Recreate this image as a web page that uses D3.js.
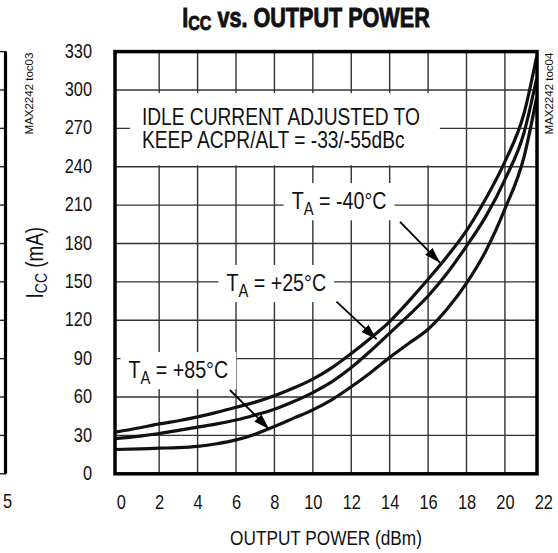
<!DOCTYPE html>
<html><head><meta charset="utf-8">
<script src="https://cdn.jsdelivr.net/npm/d3@7"></script>
<style>
html,body{margin:0;padding:0;background:#fff;}
svg{display:block;}
text{font-family:"Liberation Sans",Arial,sans-serif;fill:#111;}
</style></head>
<body>
<svg id="chart" width="558" height="553"></svg>
<script>
// ---- data ----
const xTicks = [0,2,4,6,8,10,12,14,16,18,20,22];
const yTicks = [0,30,60,90,120,150,180,210,240,270,300,330];
const power  = [-0.3,1,2,3,4,5,6,7,8,9,10,11,12,13,14,15,16,17,18,19,20,21,21.65];
const iccM40 = [32.5,36,39,41.5,44.5,48,52,56,61,67,74,83,94,106,119,135,152,170,190,215,244,282,326];
const iccP25 = [27.5,29.5,31.5,34,36.5,39,42,46,50.5,56.5,63.5,72,83,96,110,124,139,157,178,201,230,267,309];
const iccP85 = [19,19.5,20,20.5,21.5,23.5,26.5,31,37,43.5,50,58,68,79,91,102,113,129,149,174,207,248,294];
const seriesNames = ["-40°C","+25°C","+85°C"];
// label anchors (dBm, mA) and arrows [from, to]
const labelPos = [[8.9,207],[5.5,143],[0.4,75]];
const arrowFrom = [[14.54,197],[11.23,134.6],[5.68,65.5]];
const arrowTo   = [[16.62,165],[13.32,105.2],[7.73,34.8]];
const noteLines = ["IDLE CURRENT ADJUSTED TO","KEEP ACPR/ALT = -33/-55dBc"];
const notePos = [1.1, 272.8];

const SX = 0.82; // condensed type
const svg = d3.select("#chart");
const x = d3.scaleLinear().domain([-0.3, 21.67]).range([115, 537]);
const y = d3.scaleLinear().domain([0, 330]).range([473.8, 51.6]);
const [x0,x1] = x.range(), [y0,y1] = y.range();

function ntext(parent, px, py, rot, sx){
  return parent.append("g").attr("transform",
    `translate(${px},${py})${rot?` rotate(${rot})`:""} scale(${sx||SX},1)`);
}

// neighbouring chart fragment (left edge)
const frag = svg.append("g");
frag.selectAll("line.stub").data(yTicks).join("line")
  .attr("x1",0).attr("x2",6).attr("y1",d=>y(d)).attr("y2",d=>y(d))
  .attr("stroke","#222").attr("stroke-width",1.4);
frag.append("line").attr("x1",5.5).attr("x2",5.5).attr("y1",y1).attr("y2",y0)
  .attr("stroke","#000").attr("stroke-width",3.2);
ntext(frag,3,508).append("text").attr("font-size",20).text("5");
ntext(frag,33,y1+1,-90,1).append("text").attr("text-anchor","end").attr("font-size",11.5).text("MAX2242 toc03");

// grid
const grid = svg.append("g");
grid.selectAll("line.v").data(xTicks.filter(d=>d>0 && d<22)).join("line")
  .attr("x1",d=>x(d)).attr("x2",d=>x(d)).attr("y1",y1).attr("y2",y0)
  .attr("stroke","#333").attr("stroke-width",1.4);
grid.selectAll("line.h").data(yTicks.filter(d=>d>0 && d<330)).join("line")
  .attr("x1",x0).attr("x2",x1).attr("y1",d=>y(d)).attr("y2",d=>y(d))
  .attr("stroke","#333").attr("stroke-width",1.4);

// axes
const xAxis = svg.append("g").attr("transform",`translate(0,${y0})`)
  .call(d3.axisBottom(x).tickValues(xTicks).tickSize(0).tickPadding(21));
const yAxis = svg.append("g").attr("transform",`translate(${x0},0)`)
  .call(d3.axisLeft(y).tickValues(yTicks).tickSize(0).tickPadding(23));
[xAxis,yAxis].forEach(a=>{a.select(".domain").remove();
  a.selectAll("text").attr("font-size",20).attr("font-family",null).attr("fill","#111")
   .attr("transform",`scale(${SX},1)`);});
yAxis.selectAll("text").attr("dy","0.28em").attr("x",-23/SX);

// axis titles
ntext(svg,(x0+x1)/2,545).append("text").attr("text-anchor","middle")
  .attr("font-size",21).text("OUTPUT POWER (dBm)");
const yt = ntext(svg,43,(y0+y1)/2,-90).append("text").attr("text-anchor","middle").attr("font-size",23);
yt.append("tspan").text("I");
yt.append("tspan").attr("font-size",17).attr("dy",4).text("CC");
yt.append("tspan").attr("dy",-4).text(" (mA)");

// title
const tt = ntext(svg,306,27,0,0.8).append("text").attr("text-anchor","middle")
  .attr("font-size",27).attr("font-weight","bold").attr("stroke","#111").attr("stroke-width",0.9);
tt.append("tspan").text("I");
tt.append("tspan").attr("font-size",20).attr("dy",3).text("CC");
tt.append("tspan").attr("dy",-3).text(" vs. OUTPUT POWER");

// right side code
ntext(svg,553,y1+1,-90,1).append("text").attr("text-anchor","end").attr("font-size",11.5).text("MAX2242 toc04");

// note box
const note = ntext(svg, x(notePos[0]), y(notePos[1]));
const noteRect = note.append("rect").attr("fill","#fff");
const noteText = note.append("text").attr("font-size",23.4);
noteLines.forEach((s,i)=>noteText.append("tspan").attr("x",0).attr("y",i*23).text(s));
{const b = noteText.node().getBBox();
 noteRect.attr("x",b.x-12/SX).attr("y",b.y-11).attr("width",b.width+32/SX).attr("height",b.height+23);}

// temperature labels
seriesNames.forEach((n,i)=>{
  const g = ntext(svg, x(labelPos[i][0]), y(labelPos[i][1]));
  const r = g.append("rect").attr("fill","#fff");
  const t = g.append("text").attr("font-size",24);
  t.append("tspan").text("T");
  t.append("tspan").attr("font-size",18).attr("dy",6).text("A");
  t.append("tspan").attr("dy",-6).text(" = " + n);
  const b = t.node().getBBox();
  r.attr("x",b.x-8/SX).attr("y",b.y-4).attr("width",b.width+16/SX).attr("height",b.height+6);
});

// curves
const series = [iccM40, iccP25, iccP85];
const line = d3.line().x((d,i)=>x(power[i])).y(d=>y(d)).curve(d3.curveMonotoneX);
svg.append("g").selectAll("path").data(series).join("path")
  .attr("d",line).attr("fill","none").attr("stroke","#111").attr("stroke-width",3.2)
  .attr("stroke-linejoin","round");

// arrows
svg.append("defs").append("marker").attr("id","ah").attr("markerUnits","userSpaceOnUse")
  .attr("viewBox","0 0 16 10").attr("refX",16).attr("refY",5)
  .attr("markerWidth",16).attr("markerHeight",10).attr("orient","auto")
  .append("path").attr("d","M0,0 L16,5 L0,10 Z").attr("fill","#000");
svg.append("g").selectAll("line").data(arrowFrom).join("line")
  .attr("x1",d=>x(d[0])).attr("y1",d=>y(d[1]))
  .attr("x2",(d,i)=>x(arrowTo[i][0])).attr("y2",(d,i)=>y(arrowTo[i][1]))
  .attr("stroke","#000").attr("stroke-width",1.8).attr("marker-end","url(#ah)");

// frame
svg.append("rect").attr("x",x0).attr("y",y1).attr("width",x1-x0).attr("height",y0-y1)
  .attr("fill","none").attr("stroke","#000").attr("stroke-width",3.5);
</script>
</body></html>
